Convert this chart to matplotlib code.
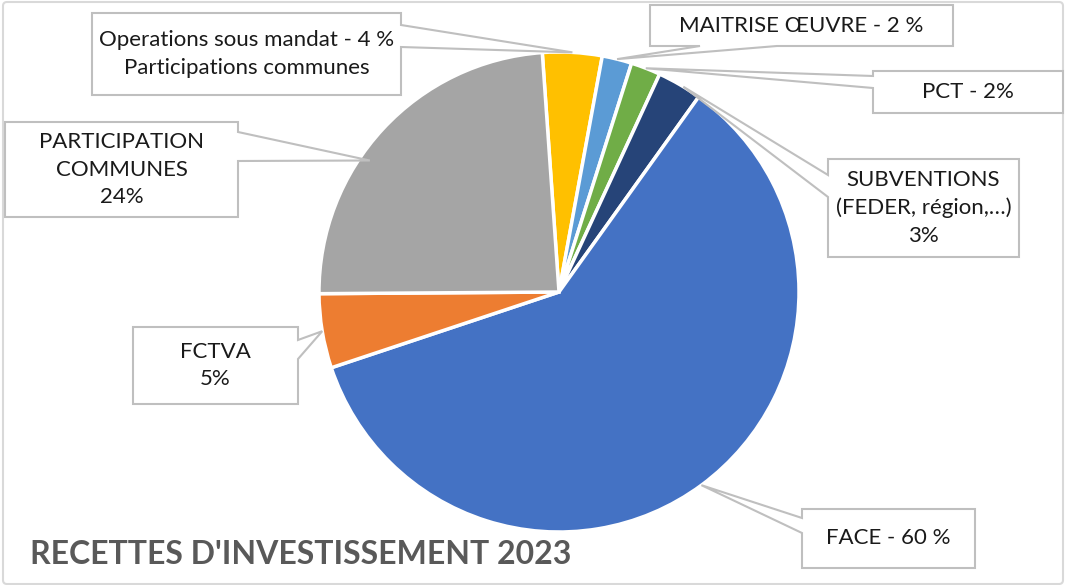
import numpy as np
import matplotlib.pyplot as plt
from matplotlib.patches import Polygon, FancyBboxPatch

plt.rcParams['font.family'] = ['Lato', 'DejaVu Sans']

# data
labels = ["Operations sous mandat - 4 %\nParticipations communes",
          "MAITRISE ŒUVRE - 2 %",
          "PCT - 2%",
          "SUBVENTIONS\n(FEDER, région,…)\n3%",
          "FACE - 60 %",
          "FCTVA\n5%",
          "PARTICIPATION\nCOMMUNES\n24%"]
values = [4, 2, 2, 3, 60, 5, 24]
colors = ["#FFC000", "#5B9BD5", "#70AD47", "#264478", "#4472C4", "#ED7D31", "#A5A5A5"]

W, H = 1068, 585
cx, cy, R = 559, 292, 240
start = 94

# callout layout: box (x0, y0, x1, y1) in pixels from top, side of the pointer, base of pointer
boxes = [(92, 13, 401, 95), (650, 5, 953, 46), (873, 71, 1063, 113),
         (828, 159, 1019, 257), (802, 509, 975, 568), (133, 327, 298, 404),
         (5, 122, 238, 217)]
sides = ["right", "bottom", "left", "left", "left", "right", "right"]
bases = [(25, 47), (700, 777), (76, 88), (175, 197), (518, 533), (340, 359), (132, 161)]
tip_shift = [0, 0, 0, -1, 0, 0, 8]
tip_r = [1.0, 1.0, 1.0, 1.0, 1.0, 1.0, 0.96]


def fy(y):
    return H - y


fig = plt.figure(figsize=(W / 100, H / 100), dpi=100)
ax = fig.add_axes([0, 0, 1, 1])

ax.pie(values, colors=colors, startangle=start, counterclock=False,
       center=(cx, fy(cy)), radius=R,
       wedgeprops=dict(edgecolor="white", linewidth=2.5))
ax.set_xlim(0, W)
ax.set_ylim(0, H)
ax.set_aspect("equal")
ax.axis("off")

# outer frame
frame = FancyBboxPatch((3, fy(584)), 1060, 582, boxstyle="round,pad=0,rounding_size=4",
                       facecolor="none", edgecolor="#D9D9D9", lw=1.5, zorder=0)
ax.add_patch(frame)

# callouts
cum = np.cumsum([0] + values)
for i, lab in enumerate(labels):
    mid = start - (cum[i] + values[i] / 2) / 100 * 360 + tip_shift[i]
    tx = cx + R * tip_r[i] * np.cos(np.radians(mid))
    ty = cy - R * tip_r[i] * np.sin(np.radians(mid))
    x0, y0, x1, y1 = boxes[i]
    b1, b2 = bases[i]
    if sides[i] == "right":
        pts = [(x0, y0), (x1, y0), (x1, b1), (tx, ty), (x1, b2), (x1, y1), (x0, y1)]
    elif sides[i] == "left":
        pts = [(x0, y0), (x1, y0), (x1, y1), (x0, y1), (x0, b2), (tx, ty), (x0, b1)]
    else:
        pts = [(x0, y0), (x1, y0), (x1, y1), (b2, y1), (tx, ty), (b1, y1), (x0, y1)]
    pts = [(p[0], fy(p[1])) for p in pts]
    ax.add_patch(Polygon(pts, closed=True, facecolor="white", edgecolor="#BFBFBF",
                         lw=1.5, zorder=5))
    ax.text((x0 + x1) / 2, fy((y0 + y1) / 2), lab, ha="center", va="center",
            fontsize=16, color="#1A1A1A", linespacing=1.45, zorder=6)

ax.text(30, fy(555), "RECETTES D'INVESTISSEMENT 2023", ha="left", va="center",
        fontsize=23, fontweight="bold", color="#595959")

fig.savefig("out.png", dpi=100)
